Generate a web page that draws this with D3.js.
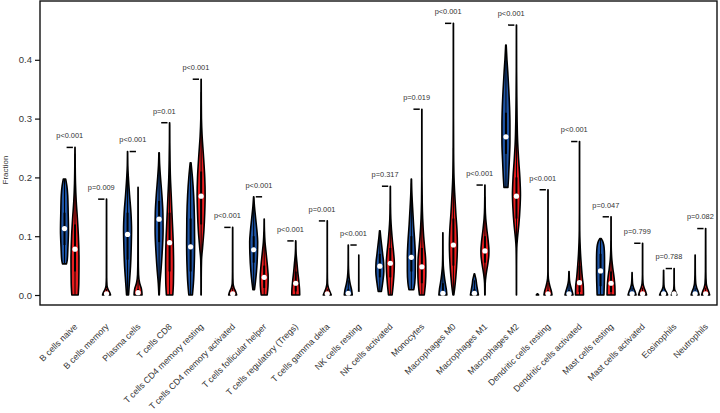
<!DOCTYPE html>
<html><head><meta charset="utf-8">
<script src="https://cdn.jsdelivr.net/npm/d3@7"></script>
<style>body{margin:0;background:#fff}svg{display:block}text{font-family:"Liberation Sans",Arial,sans-serif}</style>
</head><body><svg id="c" width="720" height="413"></svg>
<script>
const categories = ["B cells naive","B cells memory","Plasma cells","T cells CD8","T cells CD4 memory resting","T cells CD4 memory activated","T cells follicular helper","T cells regulatory (Tregs)","T cells gamma delta","NK cells resting","NK cells activated","Monocytes","Macrophages M0","Macrophages M1","Macrophages M2","Dendritic cells resting","Dendritic cells activated","Mast cells resting","Mast cells activated","Eosinophils","Neutrophils"];
const pLabels = ["p<0.001","p=0.009","p<0.001","p=0.01","p<0.001","p<0.001","p<0.001","p<0.001","p=0.001","p<0.001","p=0.317","p=0.019","p<0.001","p<0.001","p<0.001","p<0.001","p<0.001","p=0.047","p=0.799","p=0.788","p=0.082"];
const pairMax = [0.251,0.163,0.244,0.293,0.367,0.115,0.167,0.092,0.126,0.085,0.185,0.316,0.462,0.187,0.459,0.179,0.261,0.133,0.088,0.045,0.113];
const blueMedian = [0.113,null,0.103,0.129,0.082,null,0.077,null,null,0.003,0.049,0.064,0.003,0.003,0.269,null,0.002,0.041,0.002,0.002,0.002];
const redMedian = [0.078,0.002,0.004,0.089,0.168,0.002,0.03,0.02,0.002,0.001,0.054,0.048,0.085,0.075,0.168,0.002,0.021,0.02,0.002,0.002,0.002];
const blueIQR = [[0.085,0.14],null,[0.06,0.14],[0.09,0.16],[0.04,0.13],null,[0.055,0.1],null,null,[0,0.01],[0.03,0.07],[0.04,0.1],[0,0.02],[0,0.01],[0.24,0.31],null,[0,0.008],[0.015,0.07],[0,0.005],[0,0.002],[0,0.005]];
const redIQR = [[0.04,0.12],[0,0.004],[0,0.01],[0.04,0.14],[0.12,0.21],[0,0.005],[0.012,0.05],[0.006,0.04],[0,0.004],[0,0.001],[0.03,0.08],[0.02,0.08],[0.05,0.13],[0.055,0.1],[0.13,0.2],[0,0.008],[0.005,0.05],[0.005,0.04],[0,0.005],[0,0.002],[0,0.005]];
// violin outlines: [value, relative density width]
const blueShape = [
 [[0.053,0.5],[0.06,0.7],[0.08,0.85],[0.11,1],[0.14,0.92],[0.17,0.8],[0.185,0.6],[0.197,0.3]],
 null,
 [[0,0.25],[0.02,0.45],[0.05,0.75],[0.09,0.95],[0.11,1],[0.14,0.85],[0.17,0.5],[0.2,0.2],[0.22,0.06],[0.244,0.02]],
 [[0,0.05],[0.02,0.2],[0.04,0.45],[0.07,0.75],[0.11,1],[0.14,0.95],[0.17,0.7],[0.2,0.35],[0.22,0.15],[0.242,0.05]],
 [[0,0.45],[0.02,0.7],[0.05,0.9],[0.09,1],[0.13,0.95],[0.17,0.75],[0.2,0.45],[0.225,0.1]],
 null,
 [[0.009,0.2],[0.02,0.4],[0.04,0.7],[0.07,0.95],[0.09,1],[0.11,0.8],[0.13,0.5],[0.15,0.2],[0.167,0.03]],
 null,
 null,
 [[0,1],[0.008,0.85],[0.018,0.5],[0.03,0.2],[0.045,0.06],[0.06,0.03],[0.085,0.02]],
 [[0.006,0.4],[0.02,0.7],[0.04,1],[0.055,0.95],[0.07,0.7],[0.085,0.45],[0.1,0.2],[0.109,0.08]],
 [[0.009,0.6],[0.02,0.85],[0.04,1],[0.065,1],[0.09,0.85],[0.12,0.55],[0.15,0.3],[0.175,0.12],[0.197,0.04]],
 [[0,1],[0.01,0.85],[0.02,0.6],[0.035,0.3],[0.05,0.1],[0.07,0.04],[0.106,0.02]],
 [[0,1],[0.008,0.8],[0.018,0.55],[0.026,0.4],[0.032,0.2],[0.036,0.06]],
 [[0.183,0.5],[0.2,0.65],[0.23,0.85],[0.26,1],[0.29,1],[0.32,0.9],[0.35,0.7],[0.38,0.45],[0.4,0.25],[0.425,0.06]],
 [[0,0.3],[0.002,0.05]],
 [[0,1],[0.006,0.8],[0.015,0.4],[0.025,0.12],[0.04,0.03]],
 [[0,0.85],[0.02,0.95],[0.04,1],[0.06,1],[0.075,0.95],[0.085,0.8],[0.092,0.5],[0.096,0.15]],
 [[0,1],[0.006,0.75],[0.012,0.4],[0.02,0.12],[0.03,0.04],[0.038,0.02]],
 [[0,1],[0.005,0.7],[0.01,0.3],[0.018,0.08],[0.042,0.02]],
 [[0,1],[0.006,0.75],[0.012,0.4],[0.02,0.15],[0.035,0.05],[0.068,0.02]]
];
const redShape = [
 [[0,0.8],[0.02,0.95],[0.06,1],[0.1,0.85],[0.13,0.6],[0.16,0.3],[0.19,0.12],[0.22,0.05],[0.251,0.02]],
 [[0,1],[0.004,0.8],[0.01,0.35],[0.016,0.12],[0.03,0.04],[0.163,0.02]],
 [[0,1],[0.01,0.85],[0.02,0.4],[0.035,0.12],[0.06,0.05],[0.183,0.02]],
 [[0,0.8],[0.02,0.95],[0.05,1],[0.09,0.9],[0.13,0.65],[0.17,0.4],[0.2,0.2],[0.23,0.1],[0.26,0.04],[0.293,0.02]],
 [[0,0.02],[0.03,0.03],[0.06,0.1],[0.08,0.35],[0.11,0.7],[0.14,0.9],[0.17,1],[0.2,0.9],[0.24,0.55],[0.27,0.25],[0.3,0.08],[0.33,0.04],[0.367,0.02]],
 [[0,1],[0.006,0.75],[0.012,0.35],[0.02,0.1],[0.04,0.04],[0.115,0.02]],
 [[0,0.75],[0.015,0.95],[0.03,1],[0.05,0.8],[0.07,0.5],[0.09,0.2],[0.11,0.06],[0.129,0.02]],
 [[0,1],[0.01,0.95],[0.025,0.75],[0.04,0.5],[0.055,0.3],[0.07,0.1],[0.08,0.04],[0.092,0.02]],
 [[0,1],[0.005,0.7],[0.012,0.3],[0.02,0.08],[0.04,0.03],[0.126,0.02]],
 [[0,0.15],[0.004,0.03],[0.068,0.005]],
 [[0,0.45],[0.02,0.75],[0.04,0.95],[0.055,1],[0.07,0.85],[0.09,0.55],[0.11,0.3],[0.13,0.12],[0.15,0.05],[0.185,0.02]],
 [[0,0.6],[0.02,0.9],[0.04,1],[0.06,0.95],[0.08,0.7],[0.1,0.45],[0.13,0.2],[0.16,0.08],[0.2,0.03],[0.316,0.02]],
 [[0,0.1],[0.01,0.3],[0.03,0.6],[0.06,0.9],[0.085,1],[0.11,0.9],[0.14,0.6],[0.17,0.35],[0.2,0.15],[0.24,0.06],[0.3,0.03],[0.462,0.02]],
 [[0,0.03],[0.02,0.08],[0.035,0.3],[0.05,0.65],[0.065,0.95],[0.075,1],[0.09,0.85],[0.11,0.5],[0.13,0.2],[0.15,0.07],[0.187,0.02]],
 [[0,0.02],[0.05,0.03],[0.08,0.08],[0.1,0.3],[0.12,0.6],[0.15,0.9],[0.17,1],[0.2,0.85],[0.23,0.55],[0.26,0.3],[0.3,0.15],[0.34,0.08],[0.38,0.04],[0.459,0.02]],
 [[0,1],[0.006,0.85],[0.012,0.6],[0.02,0.3],[0.028,0.1],[0.04,0.03],[0.179,0.02]],
 [[0,1],[0.015,0.95],[0.03,0.7],[0.05,0.45],[0.07,0.25],[0.09,0.12],[0.11,0.05],[0.14,0.03],[0.261,0.02]],
 [[0,1],[0.015,0.95],[0.03,0.75],[0.045,0.45],[0.06,0.2],[0.075,0.07],[0.09,0.03],[0.133,0.02]],
 [[0,1],[0.006,0.75],[0.012,0.4],[0.02,0.12],[0.035,0.03],[0.088,0.02]],
 [[0,0.7],[0.005,0.4],[0.01,0.1],[0.02,0.03],[0.045,0.02]],
 [[0,1],[0.006,0.75],[0.012,0.4],[0.02,0.15],[0.04,0.05],[0.113,0.02]]
];
const yTicks = [0, 0.1, 0.2, 0.3, 0.4];
const yTickLabels = ["0.0","0.1","0.2","0.3","0.4"];
const groupColors = ["#1f55a6", "#ea1d1f"];

const svg = d3.select("#c");
const L = 40, R = 717, T = 1, B = 305;
const x = d3.scaleLinear().domain([-2.33, 62.08]).range([L, R]);
const y = d3.scaleLinear().domain([-0.017, 0.5]).range([B, T]);
const HW = 0.38; // max half width in x units

// frame
svg.append("rect").attr("x", L).attr("y", T).attr("width", R - L).attr("height", B - T)
  .attr("fill", "none").attr("stroke", "#111").attr("stroke-width", 1.4);

// y axis
const yAxis = d3.axisLeft(y).tickValues(yTicks).tickFormat((d, i) => yTickLabels[i]).tickSize(5).tickPadding(3);
const ga = svg.append("g").attr("transform", `translate(${L},0)`).call(yAxis);
ga.select(".domain").remove();
ga.selectAll(".tick line").attr("stroke", "#111").attr("stroke-width", 1.2);
ga.selectAll(".tick text").attr("font-size", 9.5).attr("fill", "#333").attr("font-family", '"Liberation Sans",Arial,sans-serif');
svg.append("text").attr("transform", `translate(8,170) rotate(-90)`).attr("text-anchor", "middle")
  .attr("font-size", 8).attr("fill", "#333").text("Fraction");

const area = d3.area().curve(d3.curveMonotoneY);

function violin(shape, pos, color, med, iqr) {
  if (!shape) return;
  const cx = x(pos);
  const px = x(pos + HW) - cx;
  area.y(d => y(d[0])).x0(d => cx - d[1] * px).x1(d => cx + d[1] * px);
  svg.append("path").attr("d", area(shape)).attr("fill", color)
    .attr("stroke", "#000").attr("stroke-width", 1.6).attr("stroke-linejoin", "round");
  const mn = shape[0][0], mx = shape[shape.length - 1][0];
  if (iqr) {
    const iq = iqr[1] - iqr[0];
    const lo = Math.max(mn, iqr[0] - 1.5 * iq), hi = Math.min(mx, iqr[1] + 1.5 * iq);
    svg.append("line").attr("x1", cx).attr("x2", cx).attr("y1", y(lo)).attr("y2", y(hi))
      .attr("stroke", "#000").attr("stroke-width", 1);
    svg.append("rect").attr("x", cx - 1).attr("width", 2).attr("y", y(iqr[1]))
      .attr("height", Math.max(0.5, y(iqr[0]) - y(iqr[1]))).attr("fill", "#000");
  }
  if (med != null) {
    svg.append("circle").attr("cx", cx).attr("cy", y(med)).attr("r", 2.6).attr("fill", "#fff");
  }
}

categories.forEach((c, i) => {
  const b = 3 * i;
  violin(blueShape[i], b, groupColors[0], blueMedian[i], blueIQR[i]);
  violin(redShape[i], b + 1, groupColors[1], redMedian[i], redIQR[i]);
  svg.append("line").attr("x1", x(b + 0.2)).attr("x2", x(b + 0.8))
    .attr("y1", y(pairMax[i])).attr("y2", y(pairMax[i])).attr("stroke", "#000").attr("stroke-width", 1.5);
  svg.append("text").attr("x", x(b + 0.5)).attr("y", y(pairMax[i] + 0.02)).attr("dy", "0.35em")
    .attr("text-anchor", "middle").attr("font-size", 7.4).attr("fill", "#333").text(pLabels[i]);
  svg.append("text").attr("transform", `translate(${x(b + 0.5) + 6},${B + 20}) rotate(-45)`)
    .attr("text-anchor", "end").attr("dy", "0.35em").attr("font-size", 8.8).attr("fill", "#333").text(c);
});
</script></body></html>
